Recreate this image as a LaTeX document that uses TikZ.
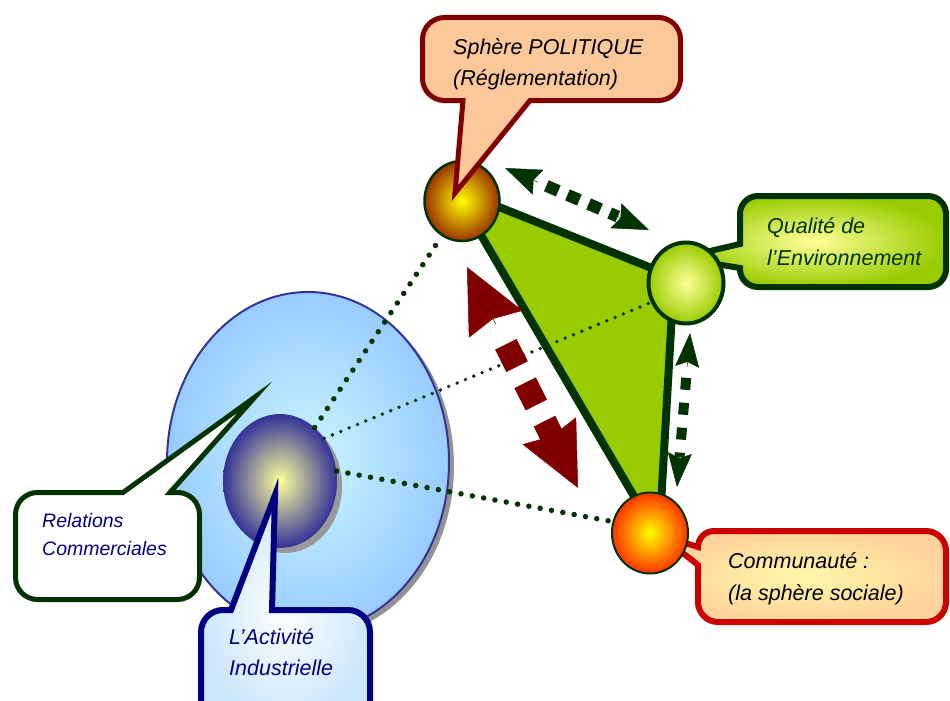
\documentclass[tikz,border=0pt]{standalone}
\usepackage{fontspec}
\setmainfont{Liberation Sans}
\usetikzlibrary{shapes.geometric,arrows.meta,calc}
\pgfdeclarelayer{base}
\pgfdeclarelayer{under}
\pgfdeclarelayer{over}
\pgfsetlayers{base,under,main,over}
\definecolor{dkgreen}{HTML}{003300}
\definecolor{lime}{HTML}{99CC00}
\definecolor{dkred}{HTML}{800000}
\definecolor{peach}{HTML}{FCC89A}
\definecolor{navyb}{HTML}{000080}
\definecolor{skyb}{HTML}{99CCFF}
\definecolor{cyanl}{HTML}{CCF6FF}
\definecolor{ltyel}{HTML}{FFFF99}
\definecolor{slate}{HTML}{333399}
\definecolor{polbrown}{HTML}{993300}
\definecolor{redor}{HTML}{FF3300}
\definecolor{crimson}{HTML}{CC0000}
\definecolor{apricot}{HTML}{FFD39C}
\definecolor{paleyel}{HTML}{FFF8A8}
\definecolor{paleblue}{HTML}{CCE6FA}
\begin{document}
\begin{tikzpicture}[x=1pt,y=-1pt,
  lbl/.style={anchor=base west, inner sep=0pt, font=\fontsize{21.5}{26}\selectfont\itshape},
  lblsm/.style={anchor=base west, inner sep=0pt, font=\fontsize{19.5}{24}\selectfont\itshape},
  bigdots/.style={draw=dkgreen, line width=5.5pt, line cap=round, dash pattern=on 0pt off 11.5pt},
  smalldots/.style={draw=dkgreen, line width=3.8pt, line cap=round, dash pattern=on 0pt off 9pt},
  ball/.style={ellipse, inner sep=0pt, draw=dkgreen},
]
\useasboundingbox (0,0) rectangle (950,701);

% ---------- base layer: activity sphere ----------
\begin{pgfonlayer}{base}
\node[ellipse, inner sep=0pt, minimum width=282pt, minimum height=340pt, fill=gray!85] (bigsh) at (313,466) {};
\node[ellipse, inner sep=0pt, minimum width=282pt, minimum height=340pt, draw=slate, line width=2pt,
      inner color=cyanl, outer color=skyb] (big) at (308,462) {};
\node[ellipse, inner sep=0pt, minimum width=114pt, minimum height=134pt, fill=gray!80] (indsh) at (285,486) {};
\node[ellipse, inner sep=0pt, minimum width=114pt, minimum height=134pt,
      inner color=ltyel, outer color=slate] (ind) at (280,481) {};
\end{pgfonlayer}

% ---------- main layer: the three spheres ----------
\node[ball, line width=2.5pt, minimum width=75pt, minimum height=80pt, inner color=yellow, outer color=polbrown] (pol) at (462,201) {};
\node[ball, line width=4pt, minimum width=75pt, minimum height=81pt, inner color=ltyel, outer color=lime] (qual) at (686,283) {};
\node[ball, line width=2pt, minimum width=76pt, minimum height=81pt, inner color=yellow, outer color=redor] (comm) at (650,533) {};

% ---------- under layer ----------
\begin{pgfonlayer}{under}
\coordinate (tP) at (454,189);
\coordinate (tQ) at (674,277);
\coordinate (tC) at (659,539);
\draw[fill=lime, draw=dkgreen, line width=8pt, line join=round] (tP) -- (tQ) -- (tC) -- cycle;

\draw[bigdots] (ind.57) -- (pol.240);
\draw[smalldots] (ind.44) -- (qual.209);
\draw[bigdots] (ind.10) -- (comm.163);

% Qualite callout
\draw[draw=dkgreen, line width=6pt, inner color=ltyel, outer color=lime]
  (758,196) -- (928,196) arc[start angle=90, end angle=0, radius=18pt]
  -- (946,269) arc[start angle=0, end angle=-90, radius=18pt]
  -- (758,287) arc[start angle=-90, end angle=-180, radius=18pt]
  -- (740,268) -- (680,258) -- (740,244)
  -- (740,214) arc[start angle=180, end angle=90, radius=18pt] -- cycle;
\node[lbl, text=dkgreen] (qualtA) at (767,233) {Qualité de};
\node[lbl, text=dkgreen] (qualtB) at (767,265) {l’Environnement};

% Communaute callout
\draw[draw=crimson, line width=6pt, inner color=paleyel, outer color=apricot]
  (714,531) -- (926,531) arc[start angle=90, end angle=0, radius=20pt]
  -- (946,602) arc[start angle=0, end angle=-90, radius=20pt]
  -- (718,622) arc[start angle=-90, end angle=-180, radius=20pt]
  -- (698,565) -- (660,535) -- (698,547)
  arc[start angle=180, end angle=90, radius=16pt] -- cycle;
\node[lbl] (commtA) at (728,568) {Communauté :};
\node[lbl] (commtB) at (728,600) {(la sphère sociale)};

% double arrows
\coordinate (g1) at (505,168);
\coordinate (g2) at (649,230);
\draw[dkgreen, line width=12pt, dash pattern=on 13pt off 10pt] ($(g1)!45pt!(g2)$) -- ($(g2)!34pt!(g1)$);
\draw[dkgreen, line width=0.5pt, -{Stealth[length=36pt,width=27pt,inset=5pt]}] ($(g1)!36pt!(g2)$) -- (g1);
\draw[dkgreen, line width=0.5pt, -{Stealth[length=36pt,width=27pt,inset=5pt]}] ($(g2)!36pt!(g1)$) -- (g2);

\coordinate (v1) at (690,333);
\coordinate (v2) at (677,487);
\draw[dkgreen, line width=10pt, dash pattern=on 12pt off 13pt] ($(v1)!45pt!(v2)$) -- ($(v2)!30pt!(v1)$);
\draw[dkgreen, line width=0.5pt, -{Stealth[length=34pt,width=24pt,inset=5pt]}] ($(v1)!34pt!(v2)$) -- (v1);
\draw[dkgreen, line width=0.5pt, -{Stealth[length=34pt,width=24pt,inset=5pt]}] ($(v2)!34pt!(v1)$) -- (v2);

\coordinate (r1) at (467,267);
\coordinate (r2) at (578,488);
\draw[dkred, line width=24pt, dash pattern=on 25pt off 18pt] ($(r1)!86.5pt!(r2)$) -- ($(r2)!49.5pt!(r1)$);
\draw[dkred, line width=0.5pt, -{Stealth[length=64pt,width=60pt,inset=6pt]}] ($(r1)!64pt!(r2)$) -- (r1);
\draw[dkred, line width=0.5pt, -{Stealth[length=64pt,width=60pt,inset=6pt]}] ($(r2)!64pt!(r1)$) -- (r2);
\end{pgfonlayer}

% ---------- over layer ----------
\begin{pgfonlayer}{over}
% Politique callout
\draw[draw=dkred, line width=5pt, left color=peach, middle color=white, right color=peach]
  (444.5,17.5) -- (658.5,17.5) arc[start angle=90, end angle=0, radius=22pt]
  -- (680.5,78.5) arc[start angle=0, end angle=-90, radius=22pt]
  -- (530,100.5) -- (455,193) -- (463,100.5)
  -- (444.5,100.5) arc[start angle=-90, end angle=-180, radius=22pt]
  -- (422.5,39.5) arc[start angle=180, end angle=90, radius=22pt] -- cycle;
\node[lbl] (poltA) at (453,55) {Sphère POLITIQUE};
\node[lbl] (poltB) at (453,85) {(Réglementation)};

% Relations callout
\draw[draw=dkgreen, line width=5pt, fill=white]
  (37.5,492.5) -- (123,492.5) -- (255,397) -- (170,492.5)
  -- (177.5,492.5) arc[start angle=90, end angle=0, radius=22pt]
  -- (199.5,577.5) arc[start angle=0, end angle=-90, radius=22pt]
  -- (37.5,599.5) arc[start angle=-90, end angle=-180, radius=22pt]
  -- (15.5,514.5) arc[start angle=180, end angle=90, radius=22pt] -- cycle;
\node[lblsm, text=navyb] (reltA) at (42,527) {Relations};
\node[lblsm, text=navyb] (reltB) at (42,555) {Commerciales};

% Activite callout
\draw[draw=navyb, line width=6pt, inner color=white, outer color=paleblue]
  (223,610) -- (231,610) -- (275,495) -- (272,610)
  -- (348,610) arc[start angle=90, end angle=0, radius=22pt]
  -- (370,725) -- (201,725)
  -- (201,632) arc[start angle=180, end angle=90, radius=22pt] -- cycle;
\node[lbl, text=navyb] (acttA) at (229,644) {L’Activité};
\node[lbl, text=navyb] (acttB) at (229,675) {Industrielle};
\end{pgfonlayer}
\end{tikzpicture}
\end{document}
